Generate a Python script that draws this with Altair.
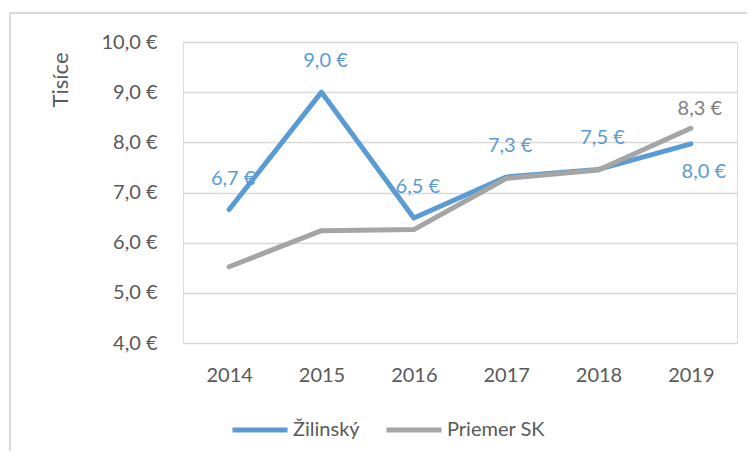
import altair as alt
import pandas as pd

years = ["2014", "2015", "2016", "2017", "2018", "2019"]
series_names = ["Žilinský", "Priemer SK"]
zilinsky = [6.66, 9.0, 6.49, 7.31, 7.46, 7.97]
priemer_sk = [5.52, 6.24, 6.26, 7.28, 7.45, 8.28]
y_ticks = [4, 5, 6, 7, 8, 9, 10]

colors = ["#5B9BD5", "#A5A5A5"]
FONT = "Lato"

rows = []
for i, y in enumerate(years):
    rows.append({"rok": y, "seria": series_names[0], "hodnota": zilinsky[i]})
    rows.append({"rok": y, "seria": series_names[1], "hodnota": priemer_sk[i]})
df = pd.DataFrame(rows)

x_enc = alt.X("rok:N", sort=years, scale=alt.Scale(paddingOuter=0.5),
              axis=alt.Axis(title=None, labelAngle=0, ticks=False, domain=False,
                            grid=False, labelFontSize=20, labelColor="#595959",
                            labelFont=FONT, labelPadding=22))
y_enc = alt.Y("hodnota:Q", scale=alt.Scale(domain=[4, 10], nice=False, zero=False),
              axis=alt.Axis(values=y_ticks, title="Tisíce", titleAnchor="end",
                            titleAngle=-90, titleFont=FONT, titleFontSize=22,
                            titleFontWeight="normal", titleColor="#595959",
                            titlePadding=28, titleY=10,
                            labelExpr="replace(format(datum.value, '.1f'), '.', ',') + ' €'",
                            labelFontSize=20, labelColor="#595959", labelFont=FONT,
                            labelPadding=26, ticks=False, domain=False,
                            grid=True, gridColor="#D9D9D9", gridWidth=1.5))

base = alt.Chart(df).encode(x=x_enc, y=y_enc)

lines = base.mark_line(strokeWidth=5, strokeCap="round", strokeJoin="round").encode(
    color=alt.Color("seria:N", sort=series_names,
                    scale=alt.Scale(domain=series_names, range=colors),
                    legend=alt.Legend(title=None, orient="none", legendX=47, legendY=358,
                                      direction="horizontal", symbolType="stroke",
                                      symbolStrokeWidth=5, symbolSize=3025,
                                      labelFont=FONT, labelFontSize=20,
                                      labelColor="#595959", labelOffset=3,
                                      columnPadding=16, padding=0))
)

labelled = base.transform_calculate(
    txt="replace(format(datum.hodnota, '.1f'), '.', ',') + ' €'"
)

blue_above = labelled.transform_filter(
    (alt.datum.seria == series_names[0]) & (alt.datum.rok != "2019")
).mark_text(dy=-31, dx=4, fontSize=20, font=FONT, color="#5B9BD5").encode(text="txt:N")

blue_below = labelled.transform_filter(
    (alt.datum.seria == series_names[0]) & (alt.datum.rok == "2019")
).mark_text(dy=28, dx=13, fontSize=20, font=FONT, color="#5B9BD5").encode(text="txt:N")

gray_above = labelled.transform_filter(
    (alt.datum.seria == series_names[1]) & (alt.datum.rok == "2019")
).mark_text(dy=-19, dx=9, fontSize=20, font=FONT, color="#7F7F7F").encode(text="txt:N")

border_left = alt.Chart(df).mark_rule(color="#D9D9D9", strokeWidth=2).encode(
    x=alt.value(-173), y=alt.value(-29), y2=alt.value(420))
border_top = alt.Chart(df).mark_rule(color="#D9D9D9", strokeWidth=2).encode(
    x=alt.value(-173), x2=alt.value(580), y=alt.value(-29))

chart = alt.layer(border_left, border_top, lines, blue_above, blue_below, gray_above).properties(
    width=554, height=301, autosize="none",
    padding={"left": 175, "top": 34, "right": 10, "bottom": 108},
).configure_view(stroke=None).configure(background="white")

chart.save("out.html", embed_options={"renderer": "svg", "actions": False})
